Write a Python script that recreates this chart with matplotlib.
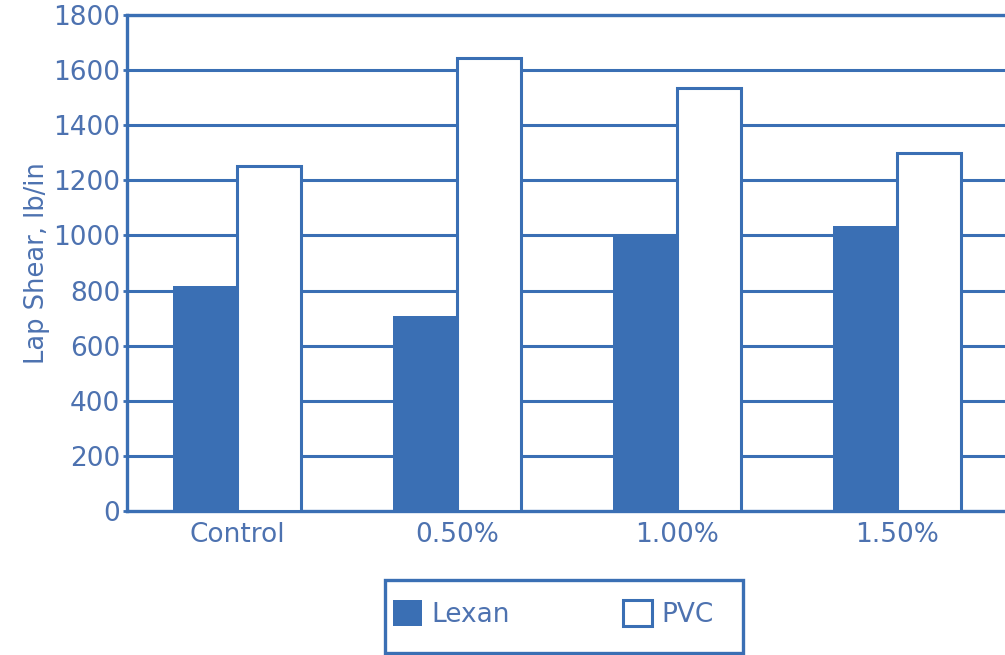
import matplotlib
matplotlib.use("Agg")
import matplotlib.pyplot as plt
import numpy as np
from matplotlib.patches import Patch, Rectangle

categories = ["Control", "0.50%", "1.00%", "1.50%"]
lexan = [818, 709, 1007, 1036]
pvc = [1251, 1644, 1535, 1298]
yticks = [0, 200, 400, 600, 800, 1000, 1200, 1400, 1600, 1800]

blue = "#3a6fb4"
text_c = "#4d72b0"
plt.rcParams['font.family'] = ['DejaVu Sans']

fig = plt.figure(figsize=(10.05, 6.55), dpi=100)
ax = fig.add_axes([127/1005, 1 - 511/655, 880/1005, 496/655])

x = np.arange(len(categories))
w = 0.29
ax.bar(x - w/2, lexan, w, color=blue, edgecolor=blue, linewidth=0, zorder=3)
ax.bar(x + w/2, pvc, w, color="white", edgecolor=blue, linewidth=2.2, zorder=3)

ax.set_xlim(-0.5, len(categories) - 0.5)
ax.set_ylim(0, 1800)
ax.set_yticks(yticks)
ax.set_xticks(x)
ax.set_xticklabels(categories)
for yv in yticks[1:]:
    ax.axhline(yv, color=blue, linewidth=2.2, zorder=1)
for s in ax.spines.values():
    s.set_color(blue)
    s.set_linewidth(2.4)
ax.tick_params(axis='y', colors=blue, labelcolor=text_c, labelsize=19, length=3, width=2, pad=2)
ax.tick_params(axis='x', length=0, labelcolor=text_c, labelsize=19, pad=8)
ax.set_ylabel("Lap Shear, lb/in", color=text_c, fontsize=18.5, labelpad=2)

# legend frame
fig.patches.append(Rectangle((385/1005, 1 - 653/655), 358/1005, 73/655,
                             transform=fig.transFigure, fill=False,
                             edgecolor=blue, linewidth=2.4, zorder=5))
handles = [Patch(facecolor=blue, edgecolor=blue, linewidth=0),
           Patch(facecolor="white", edgecolor=blue, linewidth=2.2)]
leg = fig.legend(handles, ["Lexan", "PVC"], loc="center left",
                 bbox_to_anchor=(393/1005, 1 - 614/655), ncol=2,
                 fontsize=19, frameon=False,
                 handlelength=1.1, handleheight=1.1, handletextpad=0.35,
                 columnspacing=4.3, borderpad=0, borderaxespad=0)
for t in leg.get_texts():
    t.set_color(text_c)

fig.savefig("out.png", dpi=100)
